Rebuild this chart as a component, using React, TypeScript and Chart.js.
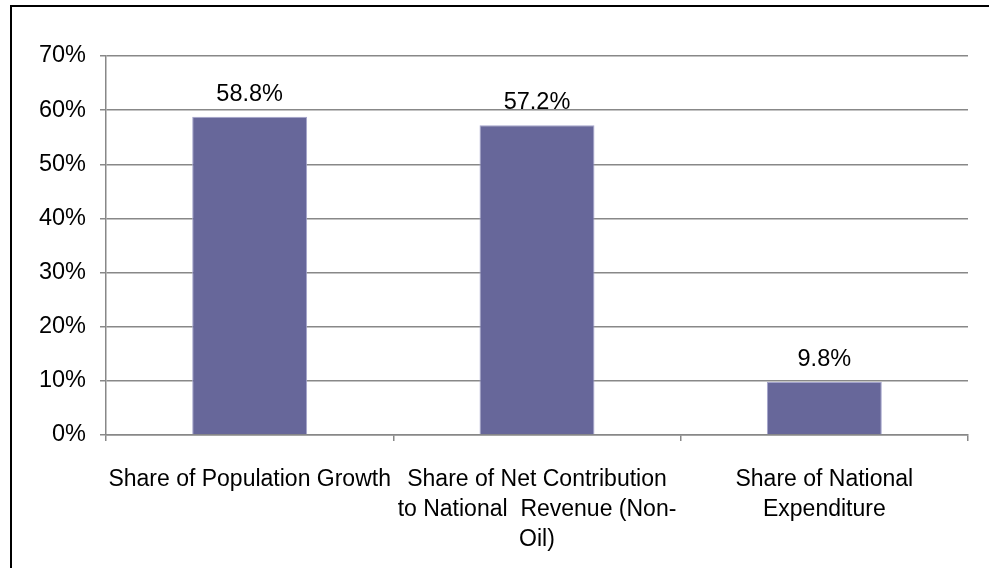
import React, { useEffect, useRef } from "react";
import { Chart, registerables } from "chart.js";

Chart.register(...registerables);

const categories: string[][] = [
  ["Share of Population Growth"],
  ["Share of Net Contribution", "to National  Revenue (Non-", "Oil)"],
  ["Share of National", "Expenditure"],
];
const values: number[] = [58.8, 57.2, 9.8];
const valueLabels: string[] = ["58.8%", "57.2%", "9.8%"];
const yMin = 0;
const yMax = 70;
const yStep = 10;

const FONT = "'Liberation Sans', Arial, sans-serif";

const dataLabelPlugin = {
  id: "dataLabels",
  afterDatasetsDraw(chart: any) {
    const ctx = chart.ctx;
    const meta = chart.getDatasetMeta(0);
    ctx.save();
    ctx.font = `23.5px ${FONT}`;
    ctx.fillStyle = "#000";
    ctx.textAlign = "center";
    ctx.textBaseline = "alphabetic";
    meta.data.forEach((el: any, i: number) => {
      ctx.fillText(valueLabels[i], el.x, el.y - 16);
    });
    ctx.restore();
  },
};

export default function App() {
  const ref = useRef<HTMLCanvasElement>(null);

  useEffect(() => {
    document.body.style.margin = "0";
    document.body.style.overflow = "hidden";
    const canvas = ref.current!;
    const chart = new Chart(canvas, {
      type: "bar",
      data: {
        labels: categories,
        datasets: [
          {
            data: values,
            backgroundColor: "#67679a",
            borderColor: "#a4a4cc",
            borderWidth: 1,
            categoryPercentage: 1,
            barPercentage: 0.4,
          },
        ],
      },
      options: {
        animation: false,
        responsive: false,
        devicePixelRatio: 1,
        layout: { padding: { top: 56, right: 21, bottom: 0, left: 0 } },
        plugins: {
          legend: { display: false },
          tooltip: { enabled: false },
        },
        scales: {
          x: {
            offset: true,
            grid: {
              offset: true,
              drawOnChartArea: false,
              drawTicks: true,
              tickLength: 6,
              color: "#888888",
              lineWidth: 1.5,
            },
            border: { display: true, color: "#888888", width: 1.5 },
            ticks: {
              color: "#000",
              padding: 24,
              maxRotation: 0,
              autoSkip: false,
              font: { family: FONT, size: 23, lineHeight: 1.3 },
            },
            afterFit(scale: any) {
              scale.height = 133;
            },
          },
          y: {
            min: yMin,
            max: yMax,
            ticks: {
              stepSize: yStep,
              color: "#000",
              padding: 14,
              font: { family: FONT, size: 23.5 },
              callback: (v: any) => `${v}%`,
            },
            grid: {
              color: "#888888",
              lineWidth: 1.5,
              drawTicks: true,
              tickLength: 6,
            },
            border: { display: true, color: "#888888", width: 1.5 },
            afterFit(scale: any) {
              scale.width = 106;
            },
          },
        },
      },
      plugins: [dataLabelPlugin],
    });
    return () => chart.destroy();
  }, []);

  return (
    <div style={{ position: "fixed", left: 0, top: 0, width: 989, height: 568, overflow: "hidden", background: "#fff" }}>
      <canvas ref={ref} width={989} height={568} style={{ position: "absolute", left: 0, top: 0, width: 989, height: 568 }} />
      <div
        style={{
          position: "absolute",
          left: 10,
          top: 5,
          width: 2000,
          height: 2000,
          borderLeft: "2px solid #000",
          borderTop: "2px solid #000",
          pointerEvents: "none",
        }}
      />
    </div>
  );
}
